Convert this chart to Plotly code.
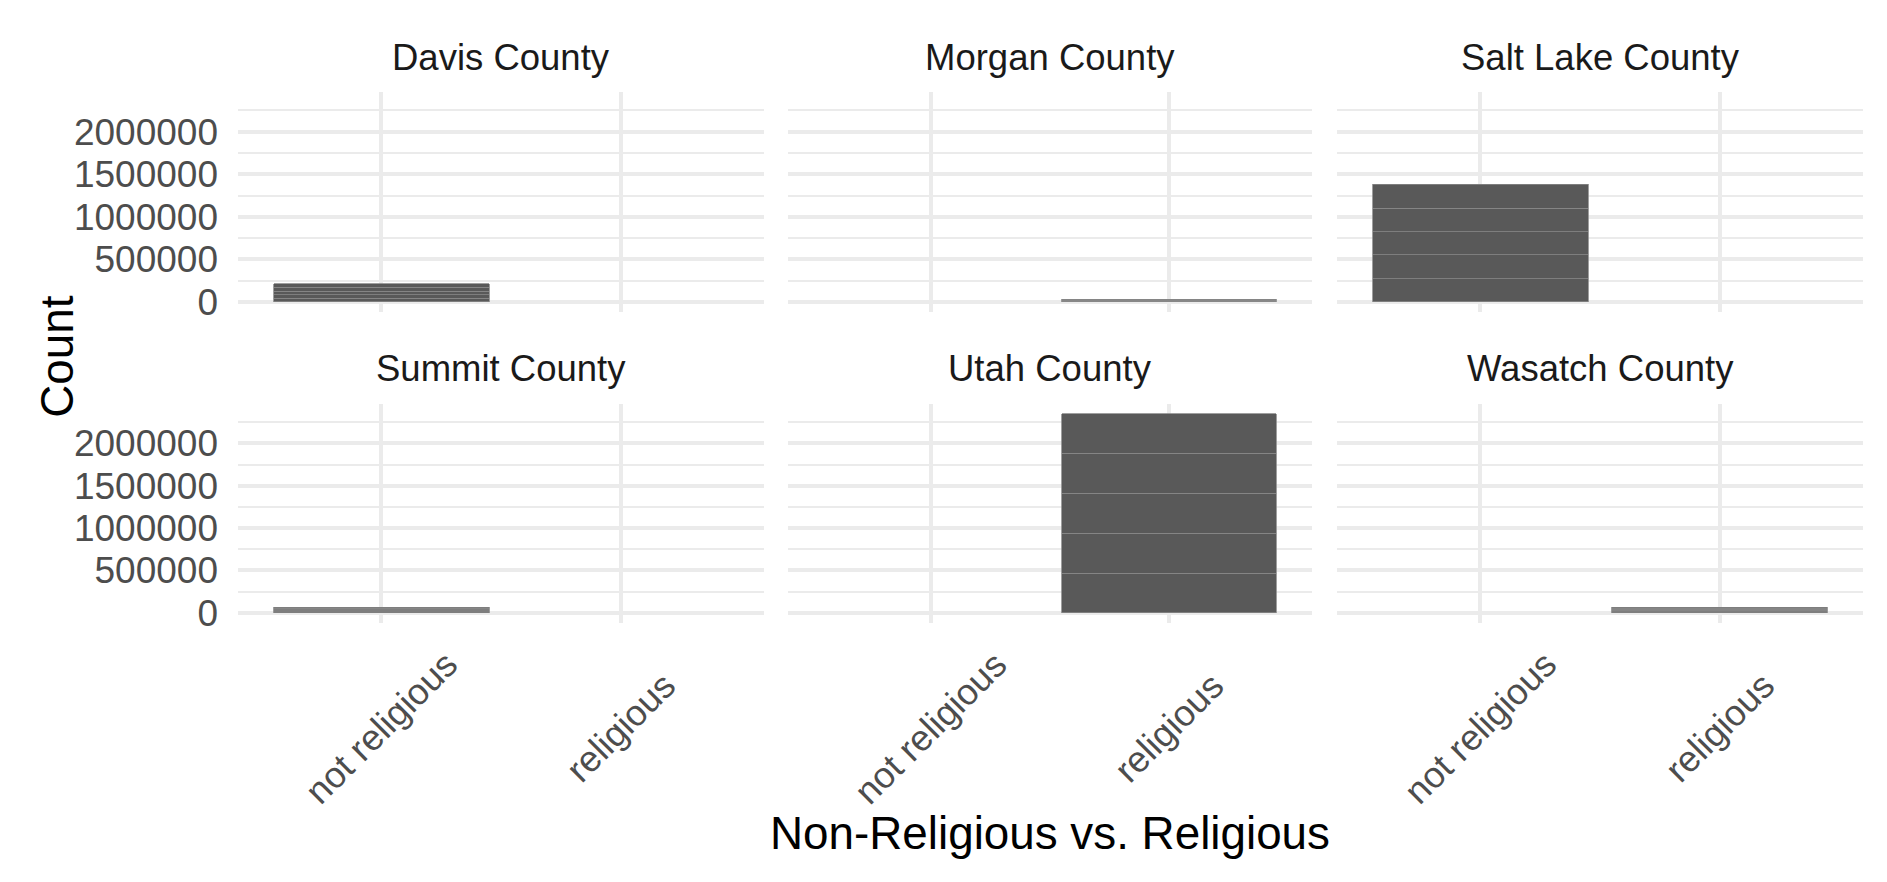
import plotly.graph_objects as go

# ---- data ----
counties = ["Davis County", "Morgan County", "Salt Lake County",
            "Summit County", "Utah County", "Wasatch County"]
categories = ["not religious", "religious"]
group = ["not religious", "religious", "not religious",
         "not religious", "religious", "religious"]
# stacked parts (bottom to top) of each county's count
part_1 = [42000, 6400, 269000, 12600, 465000, 13400]
part_2 = [42500, 6400, 285000, 12600, 472000, 13400]
part_3 = [42500, 6400, 273000, 12600, 472000, 13400]
part_4 = [43000, 6400, 273000, 12600, 472000, 13400]
part_5 = [43000, 6400, 285000, 12600, 469000, 13400]
y_ticks = [0, 500000, 1000000, 1500000, 2000000]
y_tick_labels = ["0", "500000", "1000000", "1500000", "2000000"]

parts = [part_1, part_2, part_3, part_4, part_5]
totals = [sum(p[i] for p in parts) for i in range(len(counties))]
ymax = max(totals)
yrange = [-0.05 * ymax, 1.05 * ymax]

W, H = 1887, 882
H_EFF = 871.4  # effective vertical extent observed in the rendered page
FONT = "Liberation Sans, Arial, sans-serif"
GRID = "#EBEBEB"

# panel geometry (pixels, measured from the top-left)
col_x = [(238, 764), (788, 1312), (1337, 1863)]
row_y = [(92, 312), (404, 623)]


def fx(a):
    return a / W


def fy(y):
    return (H_EFF - y) / H_EFF


fig = go.Figure()
layout = dict(
    width=W, height=H, margin=dict(l=0, r=0, t=0, b=0),
    paper_bgcolor="white", plot_bgcolor="white",
    barmode="stack", showlegend=False, annotations=[],
    font=dict(family=FONT),
)

for i, county in enumerate(counties):
    r, c = divmod(i, 3)
    n = i + 1
    xa = "x" if n == 1 else f"x{n}"
    ya = "y" if n == 1 else f"y{n}"
    for k, p in enumerate(parts):
        fig.add_trace(go.Bar(
            x=[group[i]], y=[p[i]], xaxis=xa, yaxis=ya,
            width=0.9, marker=dict(color="#595959",
                                   line=dict(color="#878787", width=0.8)),
            name=f"{county} part {k + 1}", hoverinfo="x+y",
        ))
    xkey = "xaxis" if n == 1 else f"xaxis{n}"
    ykey = "yaxis" if n == 1 else f"yaxis{n}"
    layout[xkey] = dict(
        domain=[fx(col_x[c][0]), fx(col_x[c][1])], anchor=ya, type="category",
        categoryorder="array", categoryarray=categories,
        range=[-0.6, 1.6], showgrid=True, gridcolor=GRID, gridwidth=4,
        showticklabels=False, ticks="", zeroline=False, showline=False,
    )
    layout[ykey] = dict(
        domain=[fy(row_y[r][1]), fy(row_y[r][0])], anchor=xa, range=yrange,
        tickmode="array", tickvals=y_ticks, ticktext=y_tick_labels,
        showticklabels=(c == 0), ticks="", ticklabelstandoff=19,
        tickfont=dict(size=37, color="#4D4D4D", family=FONT),
        showgrid=True, gridcolor=GRID, gridwidth=4,
        minor=dict(tickmode="array",
                   tickvals=[250000, 750000, 1250000, 1750000, 2250000],
                   showgrid=True, gridcolor=GRID, gridwidth=2),
        zeroline=False, showline=False,
    )
    # strip title
    strip_y = 58 if r == 0 else 369
    layout["annotations"].append(dict(
        text=county, xref="paper", yref="paper",
        x=fx((col_x[c][0] + col_x[c][1]) / 2), y=fy(strip_y),
        xanchor="center", yanchor="middle", showarrow=False,
        font=dict(size=36.5, color="#1A1A1A", family=FONT),
    ))
    # rotated x tick labels on bottom row
    if r == 1:
        for cat in categories:
            layout["annotations"].append(dict(
                text=cat, xref=xa, yref="paper", x=cat, y=fy(728),
                xanchor="center", yanchor="middle", textangle=-45,
                showarrow=False,
                font=dict(size=36.5, color="#4D4D4D", family=FONT),
            ))

layout["annotations"].append(dict(
    text="Count", xref="paper", yref="paper", x=fx(58), y=fy(357),
    xanchor="center", yanchor="middle", textangle=-90, showarrow=False,
    font=dict(size=45.8, color="black", family=FONT),
))
layout["annotations"].append(dict(
    text="Non-Religious vs. Religious", xref="paper", yref="paper",
    x=fx(1050), y=fy(834), xanchor="center", yanchor="middle",
    showarrow=False, font=dict(size=45.8, color="black", family=FONT),
))

fig.update_layout(**layout)
fig.write_html("out.html")
